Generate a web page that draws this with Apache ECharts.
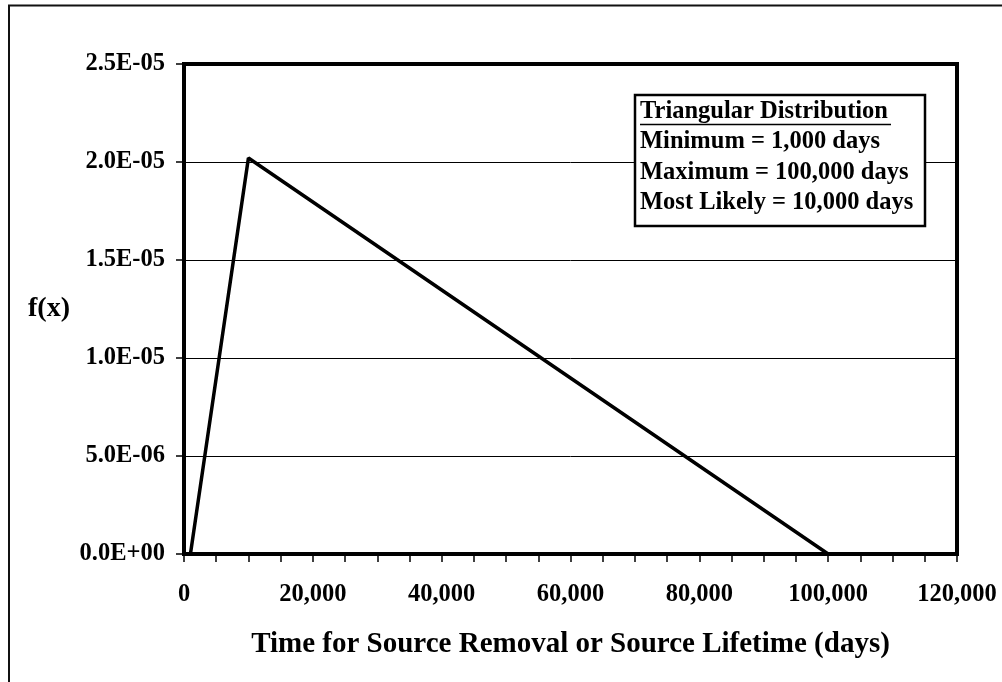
<!DOCTYPE html>
<html>
<head>
<meta charset="utf-8">
<script src="https://cdn.jsdelivr.net/npm/echarts@6/dist/echarts.min.js"></script>
<style>
html,body{margin:0;padding:0;background:#fff;}
#chart{width:1002px;height:682px;}
</style>
</head>
<body>
<div id="chart"></div>
<script>
// Data
var xValues = [1000, 10000, 100000];
var fxValues = [0, 2.0202e-5, 0];
var legendLines = ['Triangular Distribution', 'Minimum = 1,000 days', 'Maximum = 100,000 days', 'Most Likely = 10,000 days'];
var xTitle = 'Time for Source Removal or Source Lifetime (days)';
var yTitle = 'f(x)';

var FONT = '"Liberation Serif", "Times New Roman", serif';

function fmtExp(v) {
  var s = Number(v).toExponential(1);
  var parts = s.split('e');
  var e = parseInt(parts[1], 10);
  var sign = e < 0 ? '-' : '+';
  var a = Math.abs(e);
  return parts[0] + 'E' + sign + (a < 10 ? '0' + a : '' + a);
}

var seriesData = xValues.map(function (x, i) { return [x, fxValues[i]]; });

var chart = echarts.init(document.getElementById('chart'), null, {renderer: 'canvas'});

var legendGraphics = [
  {type: 'rect', shape: {x: 635, y: 95, width: 290, height: 131}, style: {fill: '#fff', stroke: '#000', lineWidth: 2.5}, z: 100}
];
var lineY = [112, 142, 173, 203];
legendLines.forEach(function (t, i) {
  legendGraphics.push({
    type: 'text', x: 640, y: lineY[i], z: 101,
    style: {text: t, fill: '#000', font: 'bold 24.5px ' + FONT, textAlign: 'left', textVerticalAlign: 'middle', verticalAlign: 'middle'}
  });
});
legendGraphics.push({type: 'line', shape: {x1: 640, y1: 124.5, x2: 891, y2: 124.5}, style: {stroke: '#000', lineWidth: 1.5}, z: 101});

var option = {
  backgroundColor: '#fff',
  animation: false,
  grid: {left: 184, right: 45, top: 64, bottom: 128, show: true, borderColor: '#000', borderWidth: 4, backgroundColor: 'transparent'},
  xAxis: {
    type: 'value', min: 0, max: 120000, interval: 20000,
    name: xTitle, nameLocation: 'middle', nameGap: 76,
    nameTextStyle: {fontFamily: FONT, fontWeight: 'bold', fontSize: 29, color: '#000'},
    axisLine: {show: true, lineStyle: {color: '#000', width: 4}},
    axisTick: {show: true, length: 8, lineStyle: {color: '#000', width: 1.5}},
    minorTick: {show: true, splitNumber: 4, length: 8, lineStyle: {color: '#000', width: 1.5}},
    splitLine: {show: false},
    axisLabel: {margin: 28, fontFamily: FONT, fontWeight: 'bold', fontSize: 24.5, color: '#000',
      formatter: function (v) { return Number(v).toLocaleString('en-US'); }}
  },
  yAxis: {
    type: 'value', min: 0, max: 2.5e-5, interval: 5e-6,
    name: yTitle, nameLocation: 'middle', nameRotate: 0, nameGap: 114,
    nameTextStyle: {fontFamily: FONT, fontWeight: 'bold', fontSize: 28, color: '#000'},
    axisLine: {show: true, lineStyle: {color: '#000', width: 4}},
    axisTick: {show: true, length: 8, lineStyle: {color: '#000', width: 1.5}},
    splitLine: {show: true, lineStyle: {color: '#000', width: 1}},
    axisLabel: {margin: 19, fontFamily: FONT, fontWeight: 'bold', fontSize: 24.5, color: '#000', formatter: fmtExp}
  },
  series: [{
    type: 'line', data: seriesData, showSymbol: false, symbol: 'none',
    lineStyle: {color: '#000', width: 3.5}, z: 5
  }],
  graphic: [
    {type: 'rect', shape: {x: 9, y: 5.5, width: 1200, height: 1000}, style: {fill: 'none', stroke: '#111', lineWidth: 2}, z: 90, silent: true}
  ].concat(legendGraphics)
};
chart.setOption(option);
</script>
</body>
</html>
